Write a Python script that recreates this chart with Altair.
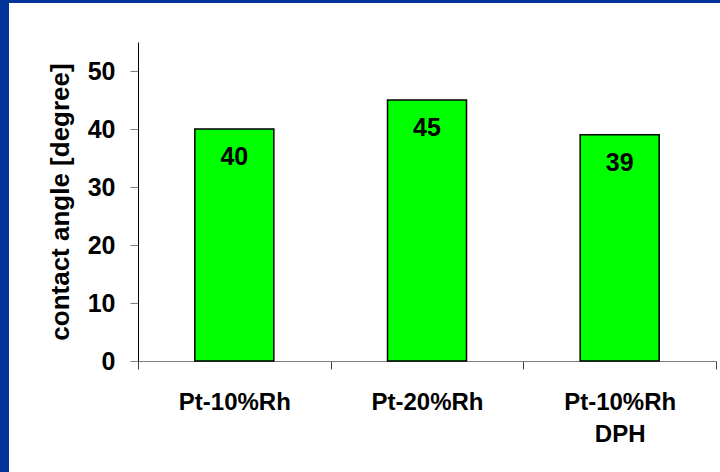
import altair as alt
import pandas as pd

# Contact angle of each alloy sample
categories = ["Pt-10%Rh", "Pt-20%Rh", "Pt-10%Rh|DPH"]
angles = [40, 45, 39]
y_ticks = [0, 10, 20, 30, 40, 50]

df = pd.DataFrame({"alloy": categories, "angle": angles})

FONT = "Liberation Sans"
FRAME = "#003399"
GREY = "#808080"

# Bands fill the whole step so the ticks fall on the category boundaries;
# the bars themselves are drawn narrower and centred in each band.
x_enc = alt.X(
    "alloy:N",
    sort=categories,
    title=None,
    scale=alt.Scale(paddingInner=0, paddingOuter=0),
    axis=alt.Axis(
        labelExpr="split(datum.label, '|')",
        labelAngle=0,
        labelFont=FONT,
        labelFontSize=24,
        labelFontWeight="bold",
        labelColor="black",
        labelBaseline="top",
        labelPadding=21,
        labelLineHeight=32,
        ticks=True,
        tickBand="extent",
        tickSize=8,
        tickWidth=1,
        tickColor="#404040",
        domainColor=GREY,
    ),
)

y_enc = alt.Y(
    "angle:Q",
    title="contact angle [degree]",
    scale=alt.Scale(domain=[0, 55], nice=False),
    axis=alt.Axis(
        values=y_ticks,
        grid=False,
        tickSize=8,
        tickColor=GREY,
        domainColor="black",
        labelFont=FONT,
        labelFontSize=25,
        labelFontWeight="bold",
        labelColor="black",
        labelPadding=15,
        titleFont=FONT,
        titleFontSize=26,
        titleFontWeight="bold",
        titleColor="black",
        titlePadding=14,
    ),
)

base = alt.Chart(df)

bars = base.mark_bar(
    color="#00ff00", stroke="black", strokeWidth=1.5, width=79
).encode(x=x_enc, y=y_enc)

values = base.mark_text(
    font=FONT, fontSize=25, fontWeight="bold", color="black",
    baseline="middle", align="center", dy=28,
).encode(x=alt.X("alloy:N", sort=categories), y="angle:Q", text="angle:Q")

# Slide frame: blue band along the left and top edges
frame_data = alt.Chart(pd.DataFrame({"edge": ["left", "top"]}))
left_band = frame_data.transform_filter("datum.edge == 'left'").mark_rect(color=FRAME).encode(
    x=alt.value(-138), x2=alt.value(-129), y=alt.value(-42), y2=alt.value(431)
)
top_band = frame_data.transform_filter("datum.edge == 'top'").mark_rect(color=FRAME).encode(
    x=alt.value(-138), x2=alt.value(582), y=alt.value(-42), y2=alt.value(-39)
)

chart = (
    alt.layer(bars, values, left_band, top_band)
    .properties(
        width=578,
        height=319,
        padding={"left": 138, "top": 42, "right": 4, "bottom": 111},
        autosize="none",
        background="white",
    )
    .configure_view(stroke=None)
)

chart.save("out.html", embed_options={"renderer": "svg", "actions": False})
